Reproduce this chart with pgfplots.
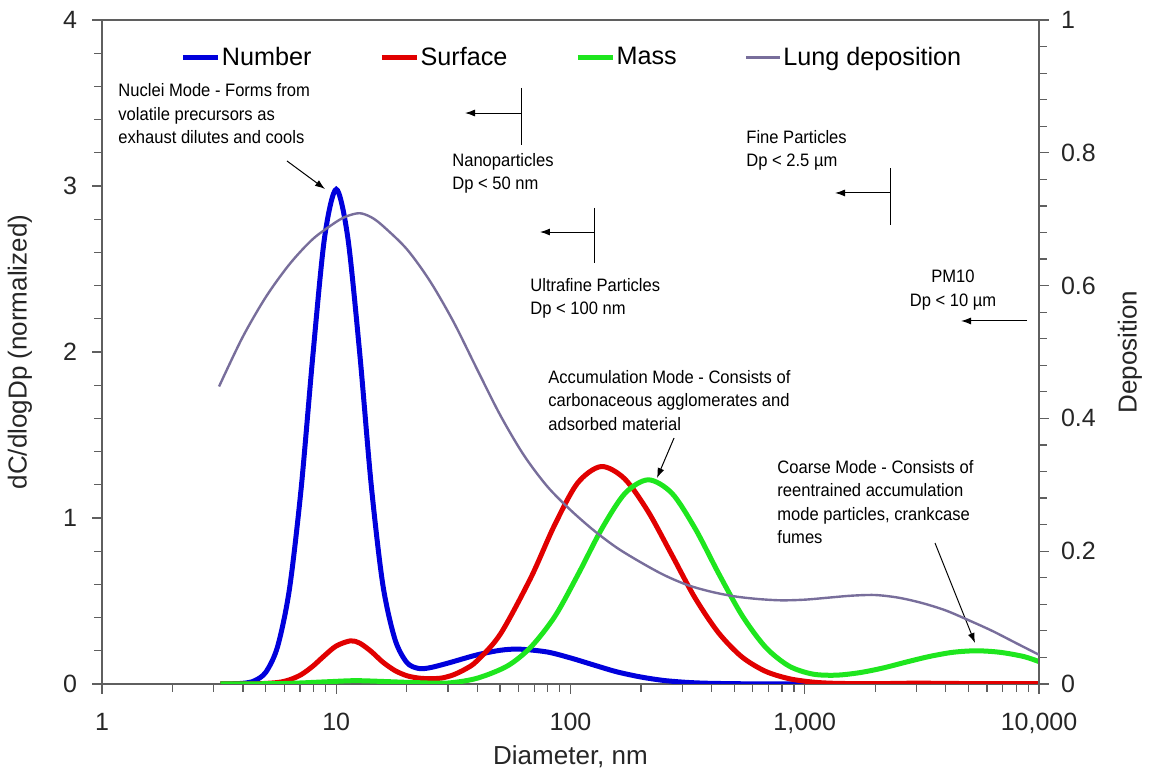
\documentclass[border=0pt]{standalone}
\usepackage{fontspec}
\setmainfont{Liberation Sans}
\newfontfamily\annfont[FakeStretch=0.92]{Liberation Sans}
\usepackage{pgfplots}
\pgfplotsset{compat=1.18}
\usetikzlibrary{arrows.meta}

\definecolor{numcol}{RGB}{0,0,220}
\definecolor{surfcol}{RGB}{225,0,0}
\definecolor{masscol}{RGB}{30,230,30}
\definecolor{lungcol}{RGB}{120,110,155}
\definecolor{axcol}{RGB}{95,95,95}

\newcommand\annsize{\annfont\fontsize{9}{11.75}\selectfont}
\tikzset{ann/.style={anchor=north west, align=left, inner sep=0pt, font=\annsize},
         annarrow/.style={-{Latex[length=5pt,width=3.5pt]}, line width=0.5pt}}

\begin{document}
\begin{tikzpicture}
\begin{axis}[
    scale only axis,
    width=468.5pt, height=332pt,
    xmode=log, xmin=1, xmax=10000,
    ymin=0, ymax=4,
    axis line style={draw=axcol, line width=0.8pt},
    tick style={draw=axcol, line width=0.6pt},
    tick align=outside,
    major tick length=5pt, minor tick length=4pt,
    /pgf/number format/assume math mode=true,
    tick label style={font=\fontsize{12.5}{15}\selectfont, text=black!85},
    label style={font=\fontsize{13}{15}\selectfont, text=black!85},
    xtick pos=bottom, ytick pos=left,
    xtick={1,10,100,1000,10000},
    xticklabels={1,10,100,{1,000},{10,000}},
    minor xtick={2,3,4,5,6,7,8,9,20,30,40,50,60,70,80,90,200,300,400,500,600,700,800,900,2000,3000,4000,5000,6000,7000,8000,9000},
    ytick={0,1,2,3,4}, minor y tick num=4,
    xticklabel style={yshift=-6pt},
    yticklabel style={xshift=-4pt},
    xlabel={Diameter, nm},
    xlabel style={at={(rel axis cs:0.5,0)}, anchor=center, yshift=-36.5pt},
    ylabel={dC/dlogDp (normalized)},
    ylabel style={at={([xshift=-41pt]rel axis cs:0,0.5)}, anchor=center},
    legend style={at={(0.5016,0.969)}, anchor=north, draw=none, fill=none,
        font=\fontsize{12.6}{14}\selectfont, legend columns=4,
        nodes={inner sep=1pt},
        /tikz/every even column/.append style={column sep=33pt}},
    legend cell align=left,
]
\coordinate (pa) at (rel axis cs:0,0);
\coordinate (pb) at (rel axis cs:1,1);
% Number
\addplot[numcol, line width=2.5pt, smooth] coordinates {
    (3.2,0) (3.98,0.004) (4.47,0.019) (5.01,0.072) (5.62,0.226) (6.31,0.57)
    (7.08,1.176) (7.94,1.972) (8.91,2.687) (10,2.98) (11.2,2.69) (12.6,1.99)
    (14.1,1.2) (15.8,0.6) (17.8,0.27) (20,0.13) (22.4,0.094) (25.1,0.098)
    (30.2,0.127) (39.8,0.175) (50.1,0.203) (60.3,0.21) (79.4,0.193)
    (100,0.157) (126,0.114) (158,0.073) (200,0.042) (251,0.021) (316,0.0095)
    (398,0.004) (631,0.0005) (1000,0)
};
% Surface
\addplot[surfcol, line width=2.5pt, smooth] coordinates {
    (3.2,0) (4.5,0.001) (5.62,0.009) (6.31,0.025) (7.08,0.056) (7.94,0.107)
    (8.91,0.171) (10,0.229) (11.5,0.26) (12.6,0.246) (14.1,0.196)
    (15.8,0.132) (17.8,0.081) (20,0.05) (22.4,0.036) (25.1,0.032)
    (28.2,0.036) (31.6,0.055) (35.5,0.089) (39.8,0.138) (50.1,0.299)
    (67.6,0.638) (85.1,0.951) (107,1.209)
    (135,1.31) (170,1.237) (214,1.041) (270,0.781) (339,0.522) (427,0.311)
    (537,0.165) (676,0.078) (851,0.033) (1072,0.012) (1349,0.004)
    (2000,0.002) (3000,0.005) (4500,0.003) (10000,0.002)
};
% Mass
\addplot[masscol, line width=2.5pt, smooth] coordinates {
    (3.2,0) (6,0.003) (9,0.013) (12,0.02) (16,0.015) (22,0.008) (30,0.006)
    (40,0.035) (54,0.11) (68,0.225) (86,0.41) (108,0.663) (136,0.935)
    (171,1.149) (215,1.23) (271,1.149) (341,0.935) (430,0.663) (541,0.411)
    (681,0.221) (857,0.108) (1079,0.06) (1358,0.053) (1710,0.068)
    (2153,0.096) (2710,0.132) (3412,0.166) (4295,0.191) (5408,0.2)
    (6808,0.191) (8570,0.166) (10000,0.135)
};
\addlegendimage{lungcol, line width=1.2pt}
\legend{Number, Surface, Mass, Lung deposition}

% annotations
\node[ann] at (rel axis cs:0.0171,0.905) {Nuclei Mode - Forms from\\volatile precursors as\\exhaust dilutes and cools};
\draw[annarrow] (rel axis cs:0.1974,0.7877) -- (rel axis cs:0.2380,0.7455);

\node[ann] at (rel axis cs:0.3735,0.800) {Nanoparticles\\Dp < 50 nm};
\draw[line width=0.5pt] (rel axis cs:0.4472,0.8976) -- (rel axis cs:0.4472,0.8117);
\draw[annarrow] (rel axis cs:0.4472,0.8599) -- (rel axis cs:0.3874,0.8599);

\node[ann] at (rel axis cs:0.4568,0.6114) {Ultrafine Particles\\Dp < 100 nm};
\draw[line width=0.5pt] (rel axis cs:0.5261,0.7169) -- (rel axis cs:0.5261,0.6340);
\draw[annarrow] (rel axis cs:0.5261,0.6807) -- (rel axis cs:0.4674,0.6807);

\node[ann] at (rel axis cs:0.6873,0.8343) {Fine Particles\\Dp < 2.5 µm};
\draw[line width=0.5pt] (rel axis cs:0.8420,0.7771) -- (rel axis cs:0.8420,0.6913);
\draw[annarrow] (rel axis cs:0.8420,0.7395) -- (rel axis cs:0.7823,0.7395);

\node[anchor=north, align=center, inner sep=0pt, font=\annsize] at (rel axis cs:0.9082,0.6235) {PM10\\Dp < 10 µm};
\draw[annarrow] (rel axis cs:0.9872,0.5467) -- (rel axis cs:0.9168,0.5467);

\node[ann] at (rel axis cs:0.4760,0.4729) {Accumulation Mode - Consists of\\carbonaceous agglomerates and\\adsorbed material};
\draw[annarrow] (rel axis cs:0.6105,0.3705) -- (rel axis cs:0.5923,0.3102);

\node[ann] at (rel axis cs:0.7204,0.3373) {Coarse Mode - Consists of\\reentrained accumulation\\mode particles, crankcase\\fumes};
\draw[annarrow] (rel axis cs:0.8890,0.2123) -- (rel axis cs:0.9317,0.0617);
\end{axis}

\begin{axis}[
    scale only axis,
    width=468.5pt, height=332pt,
    xmode=log, xmin=1, xmax=10000,
    ymin=0, ymax=1,
    axis x line=none,
    axis y line*=right,
    axis line style={draw=axcol, line width=0.8pt},
    tick style={draw=axcol, line width=0.6pt},
    tick align=outside,
    major tick length=5pt, minor tick length=4pt,
    /pgf/number format/assume math mode=true,
    tick label style={font=\fontsize{12.5}{15}\selectfont, text=black!85},
    label style={font=\fontsize{13}{15}\selectfont, text=black!85},
    ytick={0,0.2,0.4,0.6,0.8,1}, minor y tick num=4,
    yticklabel style={xshift=2.5pt},
    ylabel={Deposition},
    ylabel style={at={([xshift=45.5pt]rel axis cs:1,0.5)}, anchor=center},
]
% Lung deposition
\addplot[lungcol, line width=1.2pt, smooth] coordinates {
    (3.16,0.448) (3.98,0.522) (5.01,0.583) (6.31,0.632) (7.94,0.670)
    (10,0.696) (11.2,0.705) (12.6,0.709) (14.1,0.703) (15.8,0.690)
    (20.0,0.655) (25.1,0.607)
    (31.6,0.546) (39.8,0.475) (50.1,0.405) (63.1,0.345) (79.4,0.298)
    (100,0.262) (126,0.231) (158,0.205) (200,0.183) (251,0.164)
    (316,0.149) (398,0.139) (501,0.132) (631,0.128) (794,0.126)
    (1000,0.127) (1259,0.130) (1585,0.133) (1995,0.134) (2512,0.130)
    (3162,0.122) (3981,0.111) (5012,0.096) (6310,0.080) (7943,0.062)
    (10000,0.044)
};
\end{axis}
\pgfresetboundingbox
\path ([xshift=-51pt,yshift=-45pt]pa) rectangle ([xshift=58.5pt,yshift=10pt]pb);
\end{tikzpicture}
\end{document}
